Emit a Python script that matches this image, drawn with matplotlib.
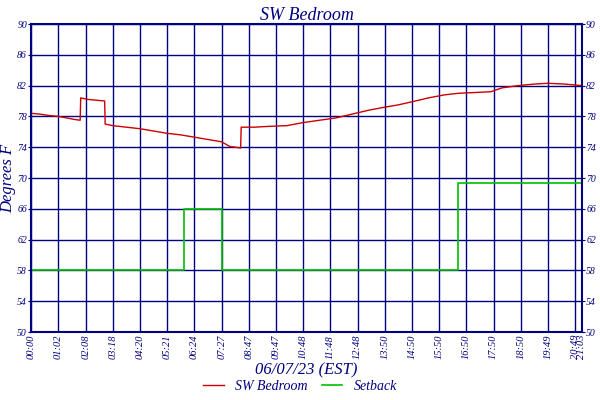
import matplotlib.pyplot as plt

# x in grid units (one unit per labelled tick)
tick_labels = ['00:00', '01:02', '02:08', '03:18', '04:20', '05:21', '06:24', '07:27',
               '08:47', '09:47', '10:48', '11:48', '12:48', '13:50', '14:50', '15:50',
               '16:50', '17:50', '18:50', '19:49', '20:49', '21:03']
tick_pos = list(range(21)) + [20.25]

temp_x = [0, 0.3, 0.7, 1.0, 1.3, 1.6, 1.8, 1.82, 2.1, 2.4, 2.7, 2.72, 3.0, 3.5, 4.0, 4.5,
          5.0, 5.5, 6.0, 6.5, 7.0, 7.3, 7.7, 7.72, 8.2, 8.7, 9.4, 10.0, 10.6, 11.2, 11.8,
          12.4, 13.0, 13.5, 14.0, 14.6, 15.2, 15.7, 16.3, 16.9, 17.3, 17.9, 18.5, 19.0,
          19.6, 20.25]
temp_y = [78.4, 78.3, 78.1, 78.0, 77.8, 77.6, 77.5, 80.4, 80.2, 80.1, 80.0, 77.0, 76.8,
          76.6, 76.4, 76.1, 75.8, 75.6, 75.3, 75.0, 74.7, 74.1, 73.9, 76.6, 76.6, 76.7,
          76.8, 77.2, 77.5, 77.8, 78.3, 78.8, 79.2, 79.5, 79.9, 80.4, 80.8, 81.0, 81.1,
          81.2, 81.7, 82.0, 82.2, 82.3, 82.2, 82.0]
setback_x = [0, 5.63, 7.02, 15.7, 20.25]
setback_y = [58, 66, 58, 69.3, 69.3]

navy = '#000080'
fig = plt.figure(figsize=(6, 4), dpi=100)
ax = fig.add_axes([0.052, 0.17, 0.918, 0.77])
ax.plot(temp_x, temp_y, color='#cc0000', lw=1, label='SW Bedroom')
ax.plot(setback_x, setback_y, color='#00c000', lw=1.2, drawstyle='steps-post', label='Setback')

ax.set_xlim(0, 20.25)
ax.set_ylim(50, 90)
ax.set_xticks(tick_pos)
ax.set_xticklabels(tick_labels, rotation=90, fontsize=7.5, style='italic',
                   family='Liberation Serif', color=navy)
ax.set_yticks(range(50, 91, 4))
ax.tick_params(axis='y', which='both', right=True, labelright=True, labelsize=7,
               labelcolor=navy, color=navy, length=2, pad=1)
ax.tick_params(axis='x', length=0, pad=2)
for lab in ax.get_yticklabels() + ax.get_yticklabels(which='both'):
    lab.set_fontstyle('italic')
    lab.set_family('Liberation Serif')
for lab in ax.yaxis.get_ticklabels(which='both'):
    lab.set_fontstyle('italic')
for t in ax.yaxis.get_major_ticks():
    t.label2.set_fontstyle('italic')
    t.label2.set_family('Liberation Serif')
ax.grid(True, color=navy, lw=1)
for s in ax.spines.values():
    s.set_color(navy)
    s.set_linewidth(1.5)

font = dict(family='Liberation Serif', style='italic', color=navy)
ax.set_title('SW Bedroom', fontsize=13, pad=3, **font)
ax.set_ylabel('Degrees F', fontsize=12, labelpad=1, **font)
ax.set_xlabel('06/07/23 (EST)', fontsize=12, labelpad=2, **font)
leg = fig.legend(*ax.get_legend_handles_labels(), loc='lower center',
                 bbox_to_anchor=(0.5, 0.0), ncol=2, frameon=False,
                 prop={'family': 'Liberation Serif', 'style': 'italic', 'size': 10},
                 handlelength=1.5, columnspacing=1, borderaxespad=0.1)
for t in leg.get_texts():
    t.set_color(navy)

plt.savefig('out.png', dpi=100)
plt.close()
